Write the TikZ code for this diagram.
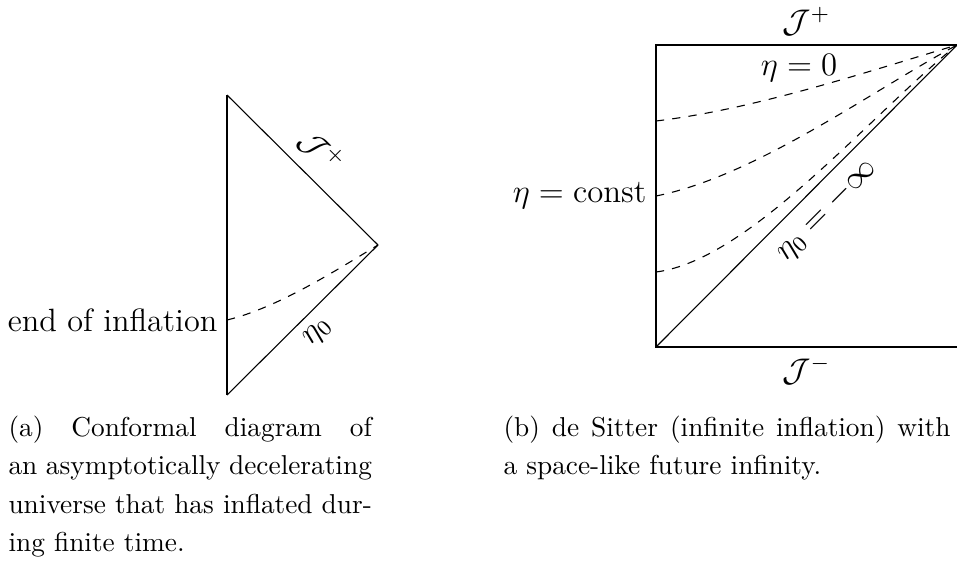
\documentclass[tikz,border=0pt]{standalone}
\usepackage{amsmath}
\begin{document}
\begin{tikzpicture}[x=0.366pt,y=0.366pt,
    lbl/.style={font=\fontsize{11.8}{14}\selectfont},
    capt/.style={font=\fontsize{10}{14.1}\selectfont,inner sep=0pt,
        anchor=north west,align=justify},
    slice/.style={dashed}]
    \useasboundingbox (0,0) rectangle (957,565);

    % (a) asymptotically decelerating universe
    \coordinate (Atop) at (227,470);
    \coordinate (Abot) at (227,170);
    \coordinate (Atip) at (378,320);
    \coordinate (Aend) at (227,245);

    \draw (Atop) -- node[lbl,pos=0.5,sloped,above=1pt]{\(\mathcal{J}^+\)} (Atip);
    \draw (Abot) -- node[lbl,pos=0.51,sloped,below=0pt]{\(\eta_0\)} (Atip);
    \draw (Atop) -- (Abot);
    \draw[slice] (Aend) .. controls (277,257) and (335,294) .. (Atip);
    \node[lbl,left] (endinf) at (Aend) {end of inflation};

    % (b) de Sitter
    \coordinate (Bbl) at (656,218);
    \coordinate (Btl) at (656,520);
    \coordinate (Btr) at (957,520);
    \coordinate (Bbr) at (957,218);
    \coordinate (Bc) at (656,369);

    \draw (Btr) -- node[lbl,above]{\(\mathcal{J}^+\)} (Btl) -- (Bbl)
        -- node[lbl,below]{\(\mathcal{J}^-\)} (Bbr);
    \draw (Bbl) -- node[lbl,pos=0.51,sloped,below=1pt]{\(\eta_0=-\infty\)} (Btr);
    \draw[slice] (656,444) .. controls (756,456) and (866,493) .. (Btr);
    \draw[slice] (Bc) .. controls (756,389) and (870,473) .. (Btr);
    \draw[slice] (656,293) .. controls (750,305) and (870,450) .. (Btr);
    \node[lbl] (eta0) at (799,497) {\(\eta=0\)};
    \node[lbl,left] (etac) at (Bc) {\(\eta=\mathrm{const}\)};

    % captions
    \node[capt,text width=133pt] (capa) at (8,150)
        {(a) Conformal diagram of\linebreak an asymptotically decelerating\linebreak
        universe that has inflated dur-\linebreak ing finite time.};
    \node[capt,text width=163.6pt] (capb) at (503,150)
        {(b) de Sitter (infinite inflation) with\linebreak a space-like future infinity.};
\end{tikzpicture}
\end{document}
